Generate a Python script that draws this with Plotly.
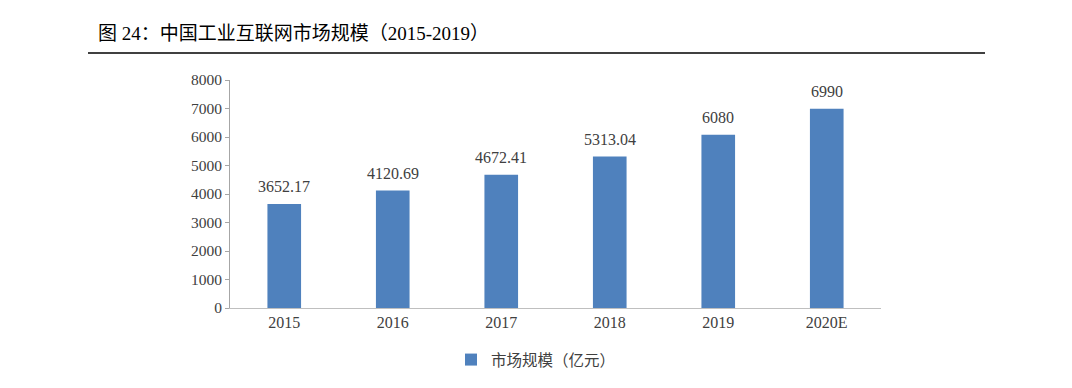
import plotly.graph_objects as go

categories = ["2015", "2016", "2017", "2018", "2019", "2020E"]
values = [3652.17, 4120.69, 4672.41, 5313.04, 6080, 6990]
value_labels = ["3652.17", "4120.69", "4672.41", "5313.04", "6080", "6990"]
y_ticks = [0, 1000, 2000, 3000, 4000, 5000, 6000, 7000, 8000]
series_name = "市场规模（亿元）"
title_text = "图 24：中国工业互联网市场规模（2015-2019）"

# page body adds an 8px offset; positions below are in figure coordinates
OFF = 8
W, H = 1072, 388
L, T = 230 - OFF, 80 - OFF
R = W - (881 - OFF)
B = H - (308 - OFF)
pw = W - L - R
ph = H - T - B

font_fam = "Liberation Serif, Noto Sans CJK SC, serif"

fig = go.Figure()
fig.add_trace(go.Bar(
    x=categories, y=values, name=series_name,
    marker=dict(color="#4f81bd", line=dict(width=0)),
))

# category axis: annotation x given as category index
for i, (v, lab) in enumerate(zip(values, value_labels)):
    fig.add_annotation(x=i, y=v, xref="x", yref="y", text=lab, showarrow=False,
                       yanchor="bottom", yshift=7,
                       font=dict(family=font_fam, size=16, color="#404040"))

fig.update_layout(
    width=W, height=H,
    margin=dict(l=L, r=R, t=T, b=B),
    paper_bgcolor="white", plot_bgcolor="white",
    bargap=0.69,
    showlegend=True,
    font=dict(family=font_fam, color="#404040"),
    title=dict(text=title_text, x=(98 - OFF) / W, xref="container", xanchor="left",
               y=1 - (33 - OFF) / H, yref="container", yanchor="middle",
               font=dict(family="Liberation Serif, Noto Sans CJK SC", size=19, color="#000000")),
    xaxis=dict(type="category", categoryorder="array", categoryarray=categories,
               range=[-0.5, len(categories) - 0.5],
               showgrid=False, showline=True, linecolor="#bfbfbf", linewidth=1,
               ticks="", tickfont=dict(family=font_fam, size=16, color="#404040")),
    yaxis=dict(range=[0, 8000], tickvals=y_ticks, showgrid=False, showline=True,
               linecolor="#a6a6a6", linewidth=1, ticks="outside", ticklen=4,
               tickcolor="#a6a6a6", zeroline=False,
               tickfont=dict(family=font_fam, size=15.5, color="#404040")),
    legend=dict(orientation="h", x=(536 - OFF - L) / pw, xanchor="center",
                y=-(360 - 308) / ph, yanchor="middle",
                font=dict(family="Noto Sans CJK SC", size=15.5, color="#404040"),
                itemwidth=30),
    shapes=[dict(type="line", xref="paper", yref="paper",
                 x0=(88 - OFF - L) / pw, x1=(985 - OFF - L) / pw,
                 y0=1 + (80 - 53) / ph, y1=1 + (80 - 53) / ph,
                 line=dict(color="#000000", width=1.5))],
)

fig.write_html("out.html")
